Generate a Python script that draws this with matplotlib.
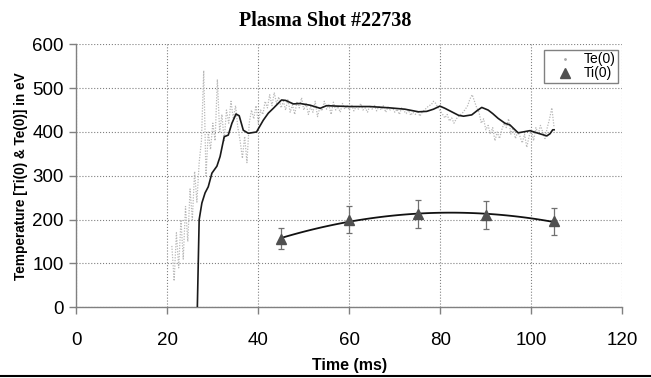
import numpy as np
import matplotlib
matplotlib.use('Agg')
import matplotlib.pyplot as plt
from matplotlib.lines import Line2D

# Te(0) raw trace, 0.5 ms steps from 21 ms to 105 ms
te_start = 21.0
te_step = 0.5
te_vals = [140, 60, 170, 90, 200, 110, 230, 150, 270, 200, 310, 240,
           330, 380, 540, 300, 400, 360, 420, 380, 520, 400, 440, 380,
           450, 420, 470, 430, 460, 410, 380, 340, 390, 330, 420, 450,
           430, 460, 420, 450, 440, 470, 455, 485, 460, 490, 465, 480,
           455, 470, 450, 475, 445, 462, 440, 470, 455, 478, 450, 465,
           440, 458, 445, 470, 435, 455, 448, 470, 452, 462, 440, 468,
           450, 458, 445, 465, 452, 460, 450, 462, 448, 458, 452, 465,
           450, 455, 445, 460, 452, 462, 448, 458, 450, 460, 445, 457,
           450, 455, 445, 452, 440, 455, 448, 442, 450, 438, 445, 440,
           448, 436, 445, 450, 455, 460, 462, 470, 465, 455, 448, 440,
           432, 440, 425, 432, 420, 430, 435, 440, 445, 452, 460, 475,
           485, 470, 455, 445, 420, 430, 405, 415, 395, 410, 380, 400,
           385, 405, 420, 410, 430, 395, 410, 385, 400, 390, 375, 395,
           365, 390, 405, 380, 410, 395, 415, 400, 385, 410, 430, 455,
           410]
te_time = te_start + te_step * np.arange(len(te_vals))

# smoothed Te(0) (moving average)
avg_time = [26.6, 27.0, 27.6, 28.3, 29.0, 29.8, 30.9, 31.6, 32.5, 33.4,
            34.2, 35.1, 35.8, 36.7, 37.8, 39.6, 41.1, 42.2, 43.3, 45.1,
            46.0, 47.7, 49.2, 51.4, 53.6, 55.0, 57.2, 60.2, 64.5, 68.9,
            72.2, 75.2, 77.0, 78.5, 79.9, 81.0, 82.5, 84.0, 85.1, 86.9,
            88.0, 89.1, 90.5, 91.5, 92.7, 94.2, 95.3, 97.1, 99.7, 101.2,
            103.4, 104.1, 104.7, 105.0]
avg_vals = [0, 200, 238, 261, 275, 306, 322, 344, 389, 393,
            420, 441, 437, 404, 397, 400, 427, 443, 454, 473,
            472, 464, 465, 461, 454, 460, 459, 458, 458, 455,
            452, 446, 447, 452, 459, 454, 446, 438, 436, 439,
            448, 456, 450, 442, 431, 420, 416, 398, 403, 398,
            391, 396, 405, 405]

# Ti(0) points with error bars
ti_time = [45, 60, 75, 90, 105]
ti_vals = [156, 200, 212, 211, 196]
ti_err = [24, 31, 32, 32, 30]

fig = plt.figure(figsize=(6.51, 3.78), dpi=100)
ax = fig.add_axes([0.1172, 0.187, 0.8388, 0.6958])

ax.plot(te_time, te_vals, linestyle=(0, (1, 1.2)), color='#b8b8b8', lw=0.9,
        zorder=2)
ax.plot(avg_time, avg_vals, color='#1a1a1a', lw=1.2, zorder=3)

ax.errorbar(ti_time, ti_vals, yerr=ti_err, fmt='none', ecolor='#707070',
            elinewidth=0.9, capsize=2.5, capthick=0.9, zorder=4)
ax.plot(ti_time, ti_vals, linestyle='none', marker='^', markersize=6.5,
        color='#505050', zorder=5)

# 2nd order polynomial trend through Ti(0)
coef = np.polyfit(ti_time, ti_vals, 2)
tt = np.linspace(ti_time[0], ti_time[-1], 100)
ax.plot(tt, np.polyval(coef, tt), color='#111111', lw=1.3, zorder=4)

ax.set_xlim(0, 120)
ax.set_ylim(0, 600)
ax.set_xticks(range(0, 121, 20))
ax.set_yticks(range(0, 601, 100))
ax.grid(True, linestyle=':', color='#808080', lw=0.8)
ax.set_axisbelow(True)

for s in ['top', 'right']:
    ax.spines[s].set_visible(False)
for s in ['left', 'bottom']:
    ax.spines[s].set_color('#808080')
    ax.spines[s].set_linewidth(1.0)
ax.tick_params(axis='both', colors='#808080', length=5, width=1.0,
               labelcolor='black', labelsize=13.5)
ax.tick_params(axis='x', pad=13)
ax.tick_params(axis='y', pad=4)

for lbl in ax.get_xticklabels() + ax.get_yticklabels():
    lbl.set_family('Liberation Sans')

ax.set_xlabel('Time (ms)', fontsize=11.5, fontweight='bold',
              family='Liberation Sans', labelpad=6)
ax.set_ylabel('Temperature [Ti(0) & Te(0)] in eV', fontsize=9.8,
              fontweight='bold', family='Liberation Sans', labelpad=3)
fig.suptitle('Plasma Shot #22738', x=0.5, y=0.97, fontsize=14.5,
             fontweight='bold', family='Liberation Serif')

handles = [Line2D([], [], linestyle='none', marker='.', markersize=2,
                  color='#a8a8a8'),
           Line2D([], [], linestyle='none', marker='^', markersize=7,
                  color='#505050')]
leg = ax.legend(handles, ['Te(0)', 'Ti(0)'], loc='upper right',
                bbox_to_anchor=(0.997, 0.99), fancybox=False, framealpha=1,
                edgecolor='#808080', prop={'family': 'Liberation Sans', 'size': 10},
                handlelength=2.6, handletextpad=0.0, borderpad=0.2,
                labelspacing=0.0, borderaxespad=0.2)
leg.get_frame().set_linewidth(1.0)

# border line along the bottom of the figure
fig.add_artist(Line2D([0, 1], [0.006, 0.006], color='black', lw=1.5,
                      transform=fig.transFigure))

fig.savefig('out.png', dpi=100)
